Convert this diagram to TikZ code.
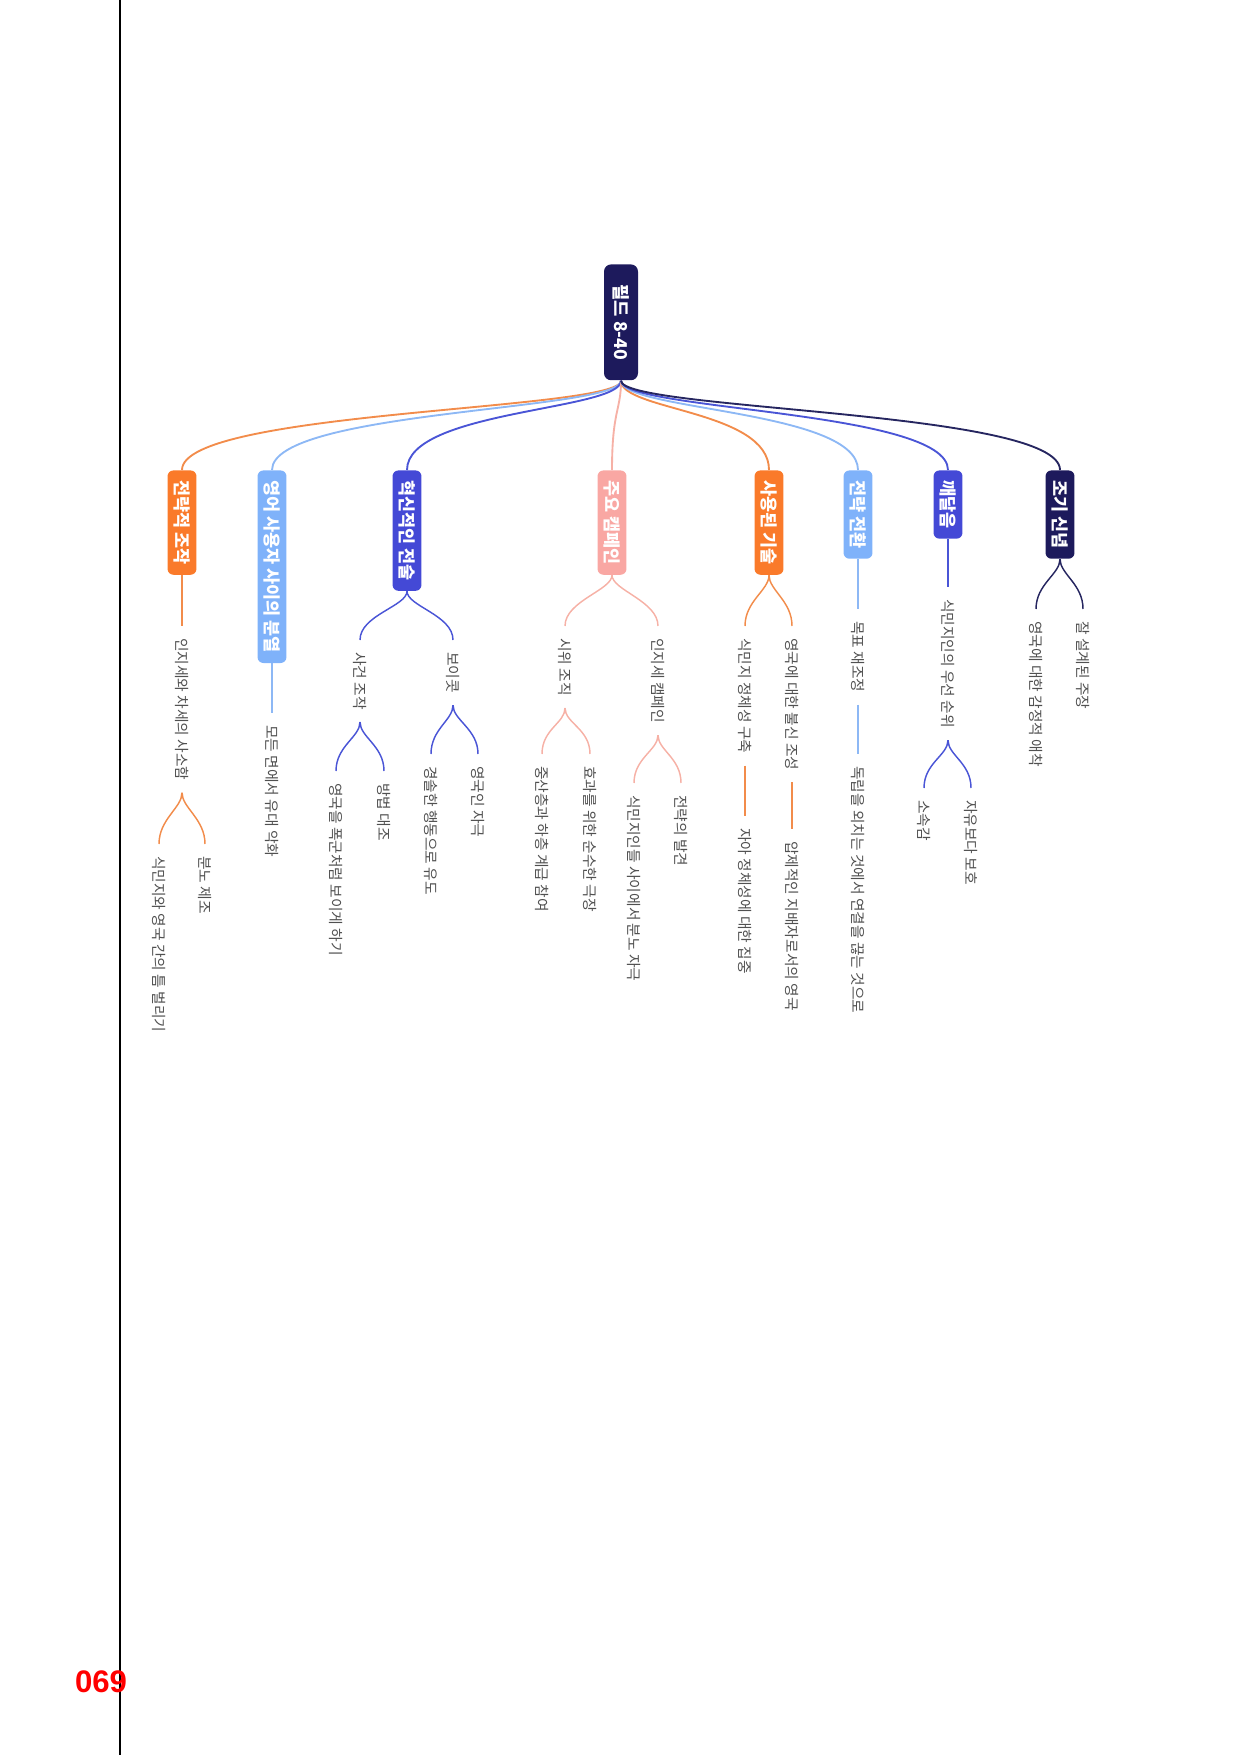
\documentclass[tikz,border=0pt]{standalone}
\usepackage{fontspec}
\newfontfamily\krfont{Noto Sans CJK KR}
\newfontfamily\numfont{Liberation Sans}
\usetikzlibrary{positioning}

\definecolor{cNavy}{HTML}{1D1A5C}
\definecolor{cOrange}{HTML}{FA7A2A}
\definecolor{cSky}{HTML}{7FB2FA}
\definecolor{cBlue}{HTML}{4449D6}
\definecolor{cPink}{HTML}{F9A7A3}
\definecolor{lOrange}{HTML}{F28C4B}
\definecolor{lSky}{HTML}{8DB8F5}
\definecolor{lBlue}{HTML}{4A55D6}
\definecolor{lPink}{HTML}{F6B1A6}
\definecolor{lNavy}{HTML}{262660}
\definecolor{cText}{HTML}{505050}

\begin{document}
\begin{tikzpicture}[x=0.16922mm,y=-0.16922mm,
    rootbox/.style={rotate=-90,anchor=west,fill=cNavy,rounded corners=1.2mm,text=white,
      font=\krfont\bfseries\fontsize{8.5pt}{9pt}\selectfont,minimum width=19.6mm,minimum height=5.75mm,inner sep=0pt},
    topic/.style={rotate=-90,anchor=west,rounded corners=1mm,text=white,
      font=\krfont\bfseries\fontsize{8.4pt}{9pt}\selectfont,inner xsep=1.7mm,inner ysep=0pt,minimum height=4.9mm},
    leaf/.style={rotate=-90,anchor=west,text=cText,font=\krfont\fontsize{7.1pt}{8pt}\selectfont,inner xsep=2mm,inner ysep=0.5mm},
    conn/.style={line width=0.9pt},
    twig/.style={line width=0.7pt}]
  \useasboundingbox (0,0) rectangle (1241,1755);
  % page margin and number
  \draw[line width=0.6pt] (120,0) -- (120,1755);
  \node[text=red,font=\numfont\bfseries\fontsize{15pt}{16pt}\selectfont] (pagenum) at (101,1682) {069};

  % root and topics
  \node[rootbox] (root) at (621,264) {필드 8-40};
  \node[topic,fill=cOrange] (t1) at (182,470) {전략적 조작};
  \node[topic,fill=cSky] (t2) at (272,470) {영어 사용자 사이의 분열};
  \node[topic,fill=cBlue] (t3) at (407,470) {혁신적인 전술};
  \node[topic,fill=cPink] (t4) at (612,470) {주요 캠페인};
  \node[topic,fill=cOrange] (t5) at (769,470) {사용된 기술};
  \node[topic,fill=cSky] (t6) at (858,470) {전략 전환};
  \node[topic,fill=cBlue] (t7) at (948,470) {깨달음};
  \node[topic,fill=cNavy] (t8) at (1060,470) {조기 신념};

  \foreach \t/\c in {t1/lOrange,t2/lSky,t3/lBlue,t4/lPink,t5/lOrange,t6/lSky,t7/lBlue,t8/lNavy}
    \draw[conn,\c] (root.east) .. controls +(0,30) and +(0,-60) .. (\t.west);

  % branch 1
  \node[leaf] (l1) at (182,626) {인지세와 차세의 사소함};
  \node[leaf] (l1a) at (159,844) {식민지와 영국 간의 틈 벌리기};
  \node[leaf] (l1b) at (205,844) {분노 제조};
  % branch 2
  \node[leaf] (l2) at (272,713) {모든 면에서 유대 악화};
  % branch 3
  \node[leaf] (l3a) at (360,640) {사건 조작};
  \node[leaf] (l3b) at (453,640) {보이콧};
  \node[leaf] (l3a1) at (336,771) {영국을 폭군처럼 보이게 하기};
  \node[leaf] (l3a2) at (384,771) {방법 대조};
  \node[leaf] (l3b1) at (431,754) {경솔한 행동으로 유도};
  \node[leaf] (l3b2) at (478,754) {영국인 자극};
  % branch 4
  \node[leaf] (l4a) at (565,626) {시위 조직};
  \node[leaf] (l4b) at (658,626) {인지세 캠페인};
  \node[leaf] (l4a1) at (542,754) {중산층과 하층 계급 참여};
  \node[leaf] (l4a2) at (590,754) {효과를 위한 순수한 극장};
  \node[leaf] (l4b1) at (634,783) {식민지인들 사이에서 분노 자극};
  \node[leaf] (l4b2) at (681,783) {전략의 발견};
  % branch 5
  \node[leaf] (l5a) at (745,626) {식민지 정체성 구축};
  \node[leaf] (l5a1) at (745,816) {자아 정체성에 대한 집중};
  \node[leaf] (l5b) at (792,626) {영국에 대한 불신 조성};
  \node[leaf] (l5b1) at (792,829) {압제적인 지배자로서의 영국};
  % branch 6
  \node[leaf] (l6) at (858,609) {목표 재조정};
  \node[leaf] (l6a) at (858,754) {독립을 외치는 것에서 연결을 끊는 것으로};
  % branch 7
  \node[leaf] (l7) at (948,587) {식민지인의 우선 순위};
  \node[leaf] (l7a) at (924,788) {소속감};
  \node[leaf] (l7b) at (971,788) {자유보다 보호};
  % branch 8
  \node[leaf] (l8a) at (1036,609) {영국에 대한 감정적 애착};
  \node[leaf] (l8b) at (1083,609) {잘 설계된 주장};

  % straight links
  \foreach \a/\b/\c in {t1/l1/lOrange,t2/l2/lSky,l5a/l5a1/lOrange,l5b/l5b1/lOrange,
      t6/l6/lSky,l6/l6a/lSky,t7/l7/lBlue}
    \draw[twig,\c] (\a.east) -- (\b.west);
  % forks
  \foreach \a/\b/\c in {l1/l1a/lOrange,l1/l1b/lOrange,t3/l3a/lBlue,t3/l3b/lBlue,
      l3a/l3a1/lBlue,l3a/l3a2/lBlue,l3b/l3b1/lBlue,l3b/l3b2/lBlue,
      t4/l4a/lPink,t4/l4b/lPink,l4a/l4a1/lPink,l4a/l4a2/lPink,l4b/l4b1/lPink,l4b/l4b2/lPink,
      t5/l5a/lOrange,t5/l5b/lOrange,l7/l7a/lBlue,l7/l7b/lBlue,t8/l8a/lNavy,t8/l8b/lNavy}
    \draw[twig,\c] (\a.east) .. controls +(0,15) and +(0,-25) .. (\b.west);
\end{tikzpicture}
\end{document}
